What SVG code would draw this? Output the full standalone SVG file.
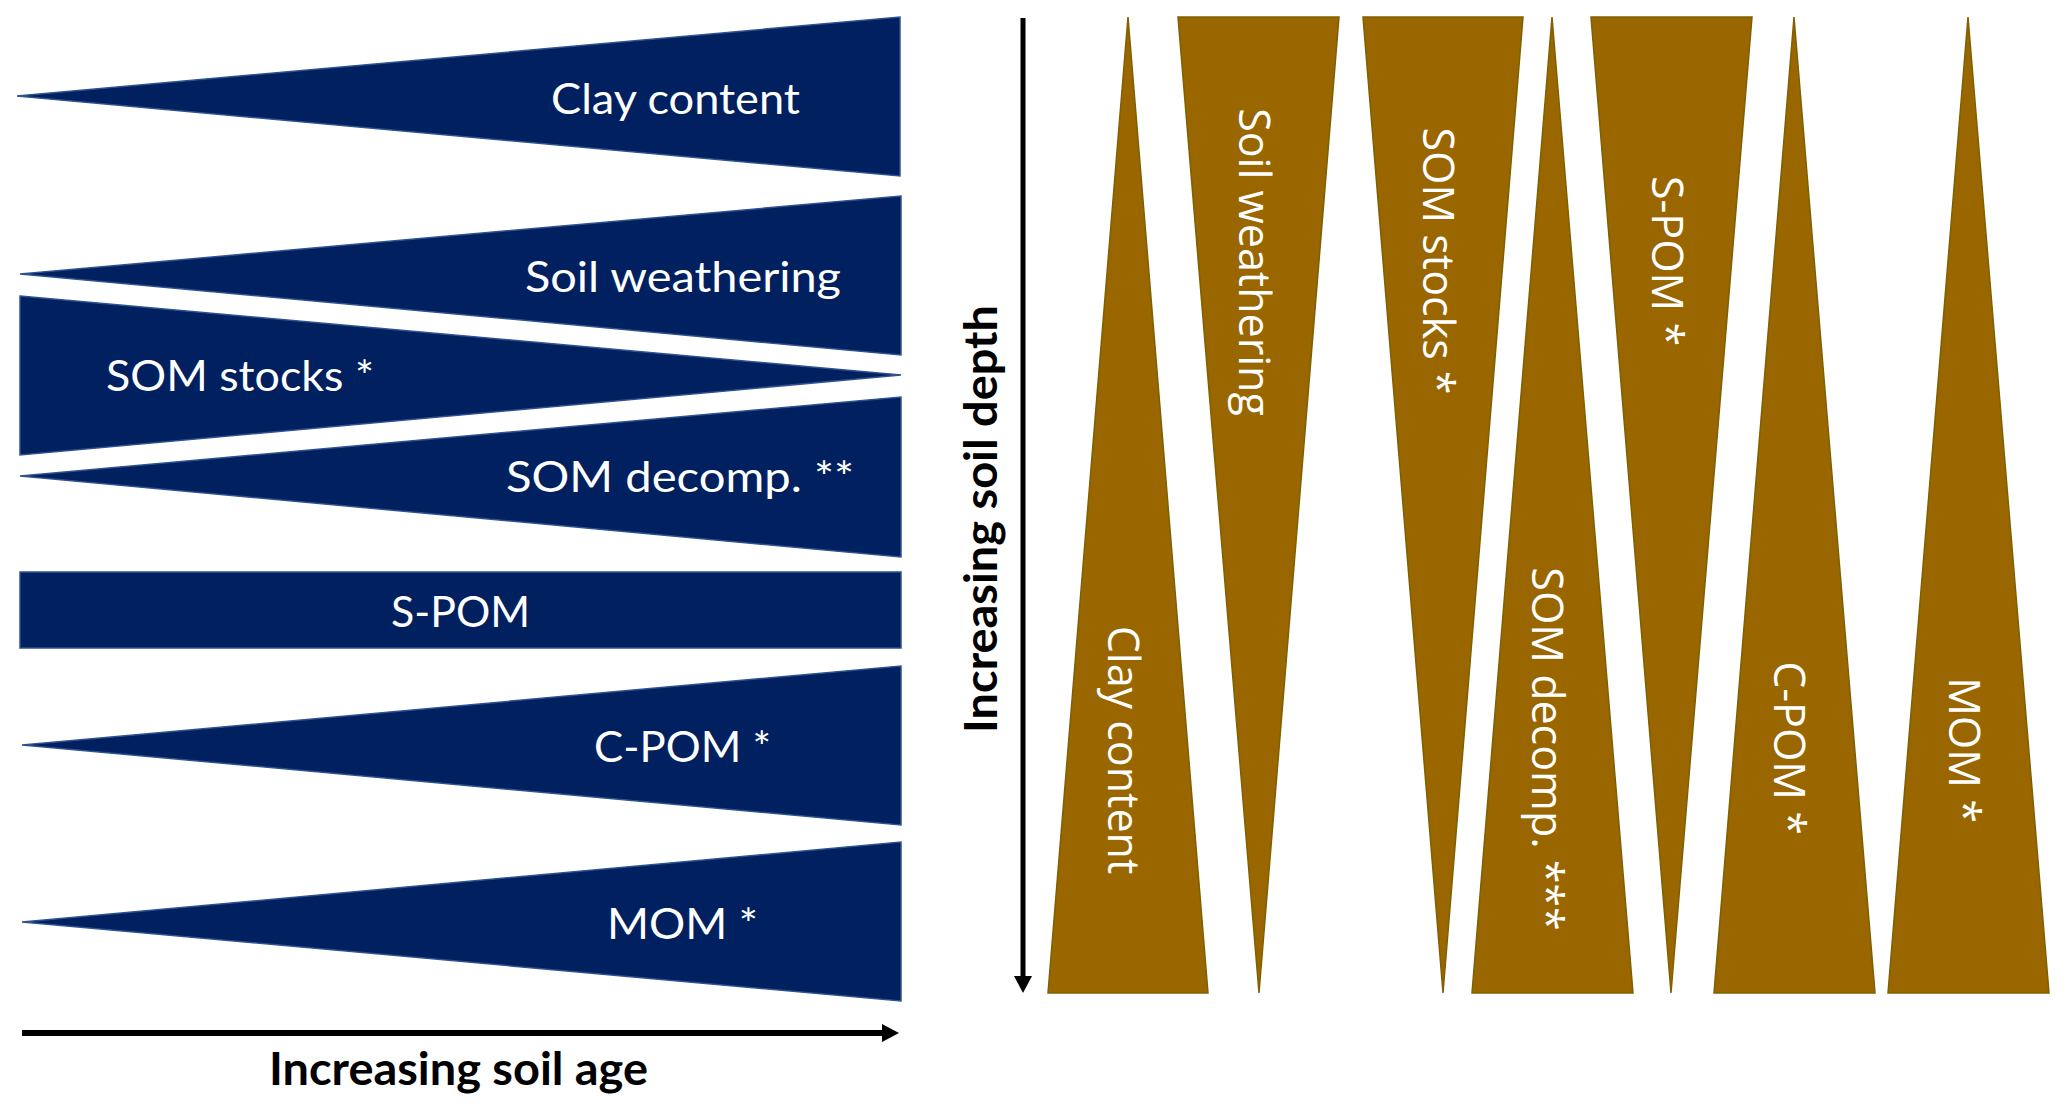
<svg xmlns="http://www.w3.org/2000/svg" width="2067" height="1112" viewBox="0 0 2067 1112">
<defs>
<style>
.navy{fill:#002060;stroke:#2f528f;stroke-width:1.5}
.brown{fill:#996600;stroke:#7f6000;stroke-width:1.5}
.lt{font-family:Lato,"Liberation Sans",sans-serif;font-size:42px;fill:#ffffff}
.rt{font-family:"Open Sans","DejaVu Sans",sans-serif;font-size:43px;fill:#ffffff;text-anchor:middle}
.ax{font-family:Lato,"Liberation Sans",sans-serif;font-size:45px;font-weight:700;fill:#000000}
.conn{stroke:#000000;fill:none}
</style>
<marker id="ah" markerUnits="userSpaceOnUse" viewBox="0 0 17 18" refX="1" refY="9" markerWidth="17" markerHeight="18" orient="auto">
<path d="M0,0 L17,9 L0,18 z" fill="#000000"/>
</marker>
</defs>
<rect width="2067" height="1112" fill="#ffffff"/>

<!-- Left panel: soil age -->
<g id="age-clay"><polygon class="navy" points="17,96 900,17 900,176"/><text class="lt" x="551" y="114" textLength="249" lengthAdjust="spacingAndGlyphs">Clay content</text></g>
<g id="age-weathering"><polygon class="navy" points="20,274 901,196 901,355"/><text class="lt" x="525" y="292" textLength="316" lengthAdjust="spacingAndGlyphs">Soil weathering</text></g>
<g id="age-somstocks"><polygon class="navy" points="20,296 901,375 20,455"/><text class="lt" x="106" y="391" textLength="268" lengthAdjust="spacingAndGlyphs">SOM stocks *</text></g>
<g id="age-somdecomp"><polygon class="navy" points="20,476 901,397 901,557"/><text class="lt" x="506" y="492" textLength="348" lengthAdjust="spacingAndGlyphs">SOM decomp. **</text></g>
<g id="age-spom"><rect class="navy" x="20" y="572" width="881" height="76"/><text class="lt" x="391" y="627" textLength="139" lengthAdjust="spacingAndGlyphs">S-POM</text></g>
<g id="age-cpom"><polygon class="navy" points="22,745 901,666 901,825"/><text class="lt" x="594" y="762" textLength="177" lengthAdjust="spacingAndGlyphs">C-POM *</text></g>
<g id="age-mom"><polygon class="navy" points="22,922 901,842 901,1001"/><text class="lt" x="607" y="939" textLength="151" lengthAdjust="spacingAndGlyphs">MOM *</text></g>

<!-- Right panel: soil depth -->
<g id="depth-clay"><polygon class="brown" points="1128,17 1208,993 1048,993"/><text class="rt" transform="translate(1108,750) rotate(90)">Clay content</text></g>
<g id="depth-weathering"><polygon class="brown" points="1178,17 1339,17 1259,993"/><text class="rt" transform="translate(1239,262) rotate(90)">Soil weathering</text></g>
<g id="depth-somstocks"><polygon class="brown" points="1363,17 1523,17 1443,993"/><text class="rt" transform="translate(1423,261) rotate(90)">SOM stocks *</text></g>
<g id="depth-somdecomp"><polygon class="brown" points="1552,17 1633,993 1472,993"/><text class="rt" transform="translate(1532,749) rotate(90)">SOM decomp. ***</text></g>
<g id="depth-spom"><polygon class="brown" points="1591,17 1752,17 1671,993"/><text class="rt" transform="translate(1652,261) rotate(90)">S-POM *</text></g>
<g id="depth-cpom"><polygon class="brown" points="1794,17 1875,993 1714,993"/><text class="rt" transform="translate(1774,748) rotate(90)">C-POM *</text></g>
<g id="depth-mom"><polygon class="brown" points="1968,17 2049,993 1888,993"/><text class="rt" transform="translate(1949,750) rotate(90)">MOM *</text></g>

<!-- Connectors (axes) -->
<g id="connectors">
<line class="conn" x1="22" y1="1033" x2="883" y2="1033" stroke-width="6" marker-end="url(#ah)"/>
<line class="conn" x1="1023" y1="18" x2="1023" y2="977" stroke-width="5" marker-end="url(#ah)"/>
</g>

<g id="axis-labels">
<text class="ax" x="269" y="1085" textLength="379" lengthAdjust="spacingAndGlyphs">Increasing soil age</text>
<text class="ax" transform="translate(997,519) rotate(-90)" text-anchor="middle" textLength="428" lengthAdjust="spacingAndGlyphs">Increasing soil depth</text>
</g>
</svg>
